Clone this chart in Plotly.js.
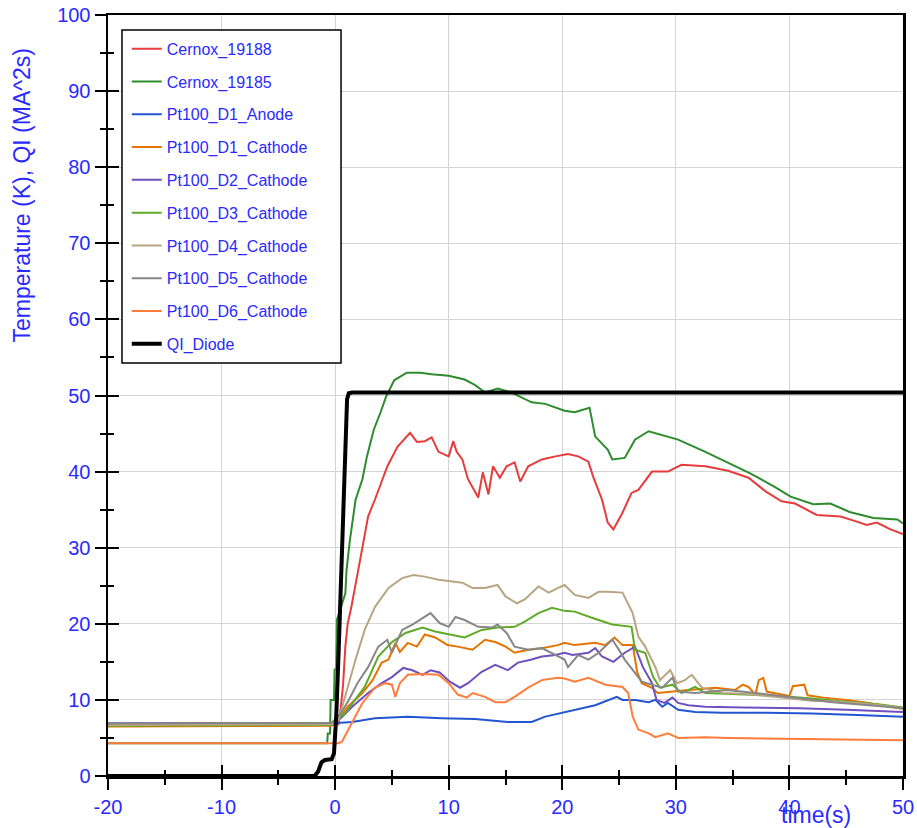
<!DOCTYPE html>
<html>
<head>
<meta charset="utf-8">
<script src="https://cdn.plot.ly/plotly-3.0.1.min.js"></script>
<style>html,body{margin:0;padding:0;background:#fff;}#chart{width:917px;height:828px;}</style>
</head>
<body>
<div id="chart"></div>
<script>
// ---- data ----
const seriesNames = ["Cernox_19188","Cernox_19185","Pt100_D1_Anode","Pt100_D1_Cathode","Pt100_D2_Cathode","Pt100_D3_Cathode","Pt100_D4_Cathode","Pt100_D5_Cathode","Pt100_D6_Cathode","QI_Diode"];

const tCernox19188 = [-20,0.3,0.5,0.7,0.9,1.1,1.4,1.8,2.2,2.9,3.5,4.6,5.5,6.6,7.2,7.9,8.5,9.1,10.0,10.4,10.7,11.2,11.7,12.6,13.0,13.5,13.9,14.5,15.1,15.8,16.3,17.0,18.2,19.4,20.5,21.4,22.3,22.7,23.5,24.0,24.5,25.3,26.1,26.7,27.9,29.3,30.5,32.6,34.6,36.4,37.9,39.3,40.5,42.4,44.5,46.0,46.8,47.7,48.9,50];
const vCernox19188 = [6.6,6.8,9,12,17,20,22,25,28.4,34.1,36.3,40.7,43.3,45.1,43.9,44.0,44.5,42.6,42.0,44.0,42.6,41.6,39.0,36.6,39.9,37.0,40.7,39.2,40.7,41.2,38.7,40.7,41.6,42.0,42.3,42.0,41.3,39.4,36.3,33.3,32.4,34.6,37.2,37.6,40.0,40.0,40.9,40.7,40.1,39.2,37.4,36.1,35.8,34.3,34.1,33.4,33.0,33.3,32.4,31.8];

const tCernox19185 = [-20,-0.7,-0.65,-0.45,-0.4,-0.1,-0.05,0.1,0.15,0.5,0.9,1.0,1.3,1.8,2.4,2.8,3.4,4.0,4.5,5.2,6.3,7.5,8.5,10.0,11.4,12.3,13.2,14.3,15.5,17.3,18.5,20.2,21.1,22.4,22.9,24.0,24.4,25.5,26.4,27.6,30.2,32.6,34.6,36.5,38.7,40.1,42.1,43.6,45.3,47.4,49.5,50];
const vCernox19185 = [4.3,4.3,5.6,5.6,10,10,14,14,20.5,22,24,27,31,36.3,39,42,45.5,47.8,49.9,52,53,53,52.8,52.6,52.1,51.4,50.4,50.9,50.4,49.1,48.9,48.0,47.8,48.4,44.6,42.9,41.6,41.8,44.2,45.3,44.2,42.6,41.2,39.8,38.0,36.7,35.7,35.8,34.7,33.9,33.7,33.2];

const tD1Anode = [-20,-0.5,0.5,1.5,3.5,6.4,9.4,12.3,15.2,17.3,18.5,20.2,21.1,22.9,24.8,25.3,26.4,27.6,28.2,28.8,29.3,30.2,31.7,34.1,38,42,46,50];
const vD1Anode = [6.9,6.9,7.0,7.1,7.6,7.8,7.6,7.5,7.1,7.1,7.8,8.4,8.7,9.3,10.4,10.0,10.0,9.7,10.0,9.1,9.6,8.7,8.4,8.3,8.3,8.2,8.0,7.8];

const tD1Cathode = [-20,-0.3,0.5,1.1,2.4,3.3,4.1,4.7,5.3,5.7,6.4,7.2,7.9,8.8,9.9,10.8,12.1,13.2,14.1,15.0,15.8,17.0,18.2,19.6,20.2,21.1,22.9,23.8,24.6,25.3,26.2,26.6,27.0,27.9,28.4,29.5,31.1,33.5,35.2,35.9,36.4,37.0,37.3,37.7,38.0,39.3,40.0,40.3,41.3,41.6,43,45,47,50];
const vD1Cathode = [6.5,6.6,7.8,9.1,10.9,12.6,14.9,15.3,17.5,16.3,17.5,17.0,18.6,18.2,17.2,17.0,16.6,17.9,17.6,17.0,16.2,16.6,16.8,17.2,17.5,17.2,17.5,17.2,18.2,17.2,17.2,13.6,12.2,11.6,10.9,11.1,11.3,11.6,11.3,12.0,11.7,10.7,12.6,12.9,11.1,10.7,10.5,11.8,12.0,10.6,10.3,10.0,9.6,8.8];

const tD2Cathode = [-20,-0.3,0.5,1.5,2.9,4.1,5.0,6.0,6.8,7.7,8.4,9.2,10.1,11.0,11.7,12.9,14.1,15.2,16.1,17.3,18.2,19.4,20.2,20.9,22.3,22.9,23.5,24.5,25.5,26.4,27.1,27.9,28.3,29.0,29.7,30.2,31.1,32.6,36,40.9,45,50];
const vD2Cathode = [6.9,7.0,7.6,9.1,10.9,12.2,13.0,14.2,13.9,13.3,13.9,13.6,12.4,11.6,12.2,13.7,14.6,13.9,14.9,15.3,15.7,15.9,16.2,15.9,16.2,16.8,15.7,15.0,16.2,17.0,14.3,12.2,10.0,9.6,10.3,9.6,9.3,9.1,9.0,8.9,8.7,8.4];

const tD3Cathode = [-20,-0.3,0.9,2.6,3.8,5.0,6.2,7.7,8.8,10,11.4,12.9,14.3,15.8,16.7,17.9,19.1,20.2,21.1,22.6,24.4,26.1,26.4,27.3,28.0,28.6,29.7,30.5,31.7,32.6,35,38,40,42,44,46,48,50];
const vD3Cathode = [6.6,6.7,8.3,11.7,15.7,17.6,18.8,19.5,19.0,18.6,18.2,19.2,19.5,19.6,20.3,21.4,22.1,21.7,21.6,20.8,19.9,19.6,16.6,16.2,13.0,11.6,12.0,10.9,11.7,10.9,10.8,10.6,10.4,10.2,9.9,9.6,9.4,9.0];

const tD4Cathode = [-20,-0.3,0.3,1.1,1.8,2.6,3.5,4.7,5.9,6.9,7.9,9.1,10.3,11.2,12.1,13.2,14.3,15.0,16.0,16.7,17.9,18.8,19.6,20.2,21.1,22.3,23.2,24.0,25.3,26.2,26.7,27.3,28.2,28.6,29.5,30.1,30.8,31.4,32.3,34.1,36,38,40,42,44,46,48,50];
const vD4Cathode = [6.7,6.8,7.4,11.7,15.3,19.2,22.2,24.7,26.0,26.4,26.2,25.8,25.6,25.4,24.7,24.7,25.1,23.6,22.7,23.2,24.9,24.1,24.7,25.1,23.8,23.4,24.2,24.2,24.1,21.4,18.3,17.0,14.3,12.6,13.9,12.2,12.6,13.3,11.6,10.9,10.8,10.5,10.2,9.9,9.8,9.6,9.3,8.9];

const tD5Cathode = [-20,-0.3,0.5,1.2,2.0,2.9,3.8,4.6,5.0,5.9,6.8,7.7,8.4,9.2,10,10.6,11.4,12.6,13.8,14.3,15.1,15.8,17.0,18.2,19.4,20.2,20.5,21.4,22.3,23.2,24.4,24.9,25.5,26.4,27.0,27.9,28.8,29.7,30.2,31.7,34.5,37,40,43.8,47,50];
const vD5Cathode = [6.9,7.0,8.2,10,12.3,14.3,17.0,17.9,16.2,19.2,19.9,20.8,21.4,20.1,19.6,20.9,20.5,19.6,19.5,19.9,18.8,17.0,16.6,16.8,15.9,15.3,14.3,15.9,15.3,16.2,17.9,16.8,15.3,13.6,12.4,12.0,11.6,12.9,11.1,10.9,11.3,10.9,10.4,9.7,9.3,8.9];

const tD6Cathode = [-20,0.3,0.6,1.5,2.4,3.5,4.4,5.0,5.3,5.7,6.4,7.7,9.1,10.0,10.8,11.6,12.1,13.2,14.1,15.0,15.8,17.0,18.2,19.6,20.2,21.1,22.3,23.8,25.3,25.8,26.2,26.7,27.6,28.2,29.3,30.2,32.6,34.6,40,45,50];
const vD6Cathode = [4.3,4.3,4.5,7.0,9.6,11.6,12.2,12.0,10.4,12.2,13.3,13.4,13.3,12.2,10.7,10.3,10.9,10.4,9.7,9.7,10.4,11.6,12.6,12.9,12.8,12.4,12.9,12.0,11.7,10.9,7.8,6.1,5.6,5.1,5.6,5.0,5.1,5.0,4.9,4.8,4.7];

const tQI = [-20,-1.8,-1.5,-1.2,-0.9,-0.3,-0.1,0.1,0.3,0.5,0.7,0.9,1.05,1.2,1.5,50];
const vQI = [0,0,0.6,1.8,2.1,2.2,3,8,16,25,36,46,49.5,50.3,50.4,50.4];

const xTicks = [-20,-10,0,10,20,30,40,50];
const xTickText = ["-20","-10","0","10","20","30","40","50"];
const yTicks = [0,10,20,30,40,50,60,70,80,90,100];
const xMinor = [-15,-5,5,15,25,35,45];
const yMinor = [5,15,25,35,45,55,65,75,85,95];

// ---- styles ----
const colors = ["#e63c3c","#2e8b2e","#2255d0","#e67300","#6e50be","#5faa28","#b9a582","#878787","#ff7d3c","#000000"];
const widths = [2,2,2,2,2,2,2,2,2,4];
const blue = "#2a2aff";
const font = "Liberation Sans, Arial, sans-serif";

const tArr = [tCernox19188,tCernox19185,tD1Anode,tD1Cathode,tD2Cathode,tD3Cathode,tD4Cathode,tD5Cathode,tD6Cathode,tQI];
const vArr = [vCernox19188,vCernox19185,vD1Anode,vD1Cathode,vD2Cathode,vD3Cathode,vD4Cathode,vD5Cathode,vD6Cathode,vQI];

const traces = seriesNames.map((n,i)=>({
  type:"scatter", mode:"lines", name:n, x:tArr[i], y:vArr[i],
  line:{color:colors[i], width:widths[i]}, legendgroup:"g"+i
}));
// helper trace for inner half of the crossing ticks
traces.push({type:"scatter", mode:"lines", x:[], y:[], xaxis:"x2", yaxis:"y2", showlegend:false, hoverinfo:"skip"});

const axCommon = {
  showline:true, linecolor:"#000", linewidth:2.5, mirror:true,
  ticks:"outside", ticklen:11, tickwidth:2, tickcolor:"#000",
  showgrid:true, gridcolor:"#d4d4d4", gridwidth:1, zeroline:false,
  tickfont:{family:font, size:20, color:blue},
  tickmode:"array"
};

const layout = {
  width:917, height:828,
  margin:{l:108, r:14, t:15, b:52},
  paper_bgcolor:"#fff", plot_bgcolor:"#fff",
  font:{family:font, color:blue},
  showlegend:true,
  xaxis:Object.assign({}, axCommon, {range:[-20,50], tickvals:xTicks, ticktext:xTickText,
    minor:{tickvals:xMinor, ticks:"outside", ticklen:6, tickwidth:2, tickcolor:"#000", showgrid:false}}),
  yaxis:Object.assign({}, axCommon, {range:[0,100], tickvals:yTicks,
    minor:{tickvals:yMinor, ticks:"outside", ticklen:6, tickwidth:2, tickcolor:"#000", showgrid:false}}),
  xaxis2:{overlaying:"x", anchor:"y2", side:"bottom", range:[-20,50], tickmode:"array", tickvals:xTicks,
    ticks:"inside", ticklen:11, tickwidth:2, tickcolor:"#000", showticklabels:false, showgrid:false, showline:false, zeroline:false,
    minor:{tickvals:xMinor, ticks:"inside", ticklen:6, tickwidth:2, tickcolor:"#000", showgrid:false}},
  yaxis2:{overlaying:"y", anchor:"x2", side:"left", range:[0,100], tickmode:"array", tickvals:yTicks,
    ticks:"inside", ticklen:11, tickwidth:2, tickcolor:"#000", showticklabels:false, showgrid:false, showline:false, zeroline:false,
    minor:{tickvals:yMinor, ticks:"inside", ticklen:6, tickwidth:2, tickcolor:"#000", showgrid:false}},
  legend:{x:0.0236, y:0.978, xanchor:"left", yanchor:"top", bgcolor:"rgba(0,0,0,0)", bordercolor:"rgba(0,0,0,0)", borderwidth:0,
    font:{family:font, size:16, color:blue}, tracegroupgap:9, traceorder:"grouped"},
  shapes:[
    {type:"rect", xref:"paper", yref:"paper", x0:0.0176, x1:0.2931, y0:0.5427, y1:0.9803,
     fillcolor:"#fff", line:{color:"#000", width:1.5}, layer:"above"}
  ],
  annotations:[
    {text:"Temperature (K), QI (MA^2s)", xref:"paper", yref:"paper", x:-0.108, y:0.763, textangle:-90,
     showarrow:false, font:{family:font, size:23, color:blue}, xanchor:"center", yanchor:"middle"},
    {text:"time(s)", xref:"paper", yref:"paper", x:0.89, y:-0.051, showarrow:false,
     font:{family:font, size:23, color:blue}, xanchor:"center", yanchor:"middle"}
  ]
};

Plotly.newPlot("chart", traces, layout, {displayModeBar:false, staticPlot:true});
</script>
</body>
</html>
